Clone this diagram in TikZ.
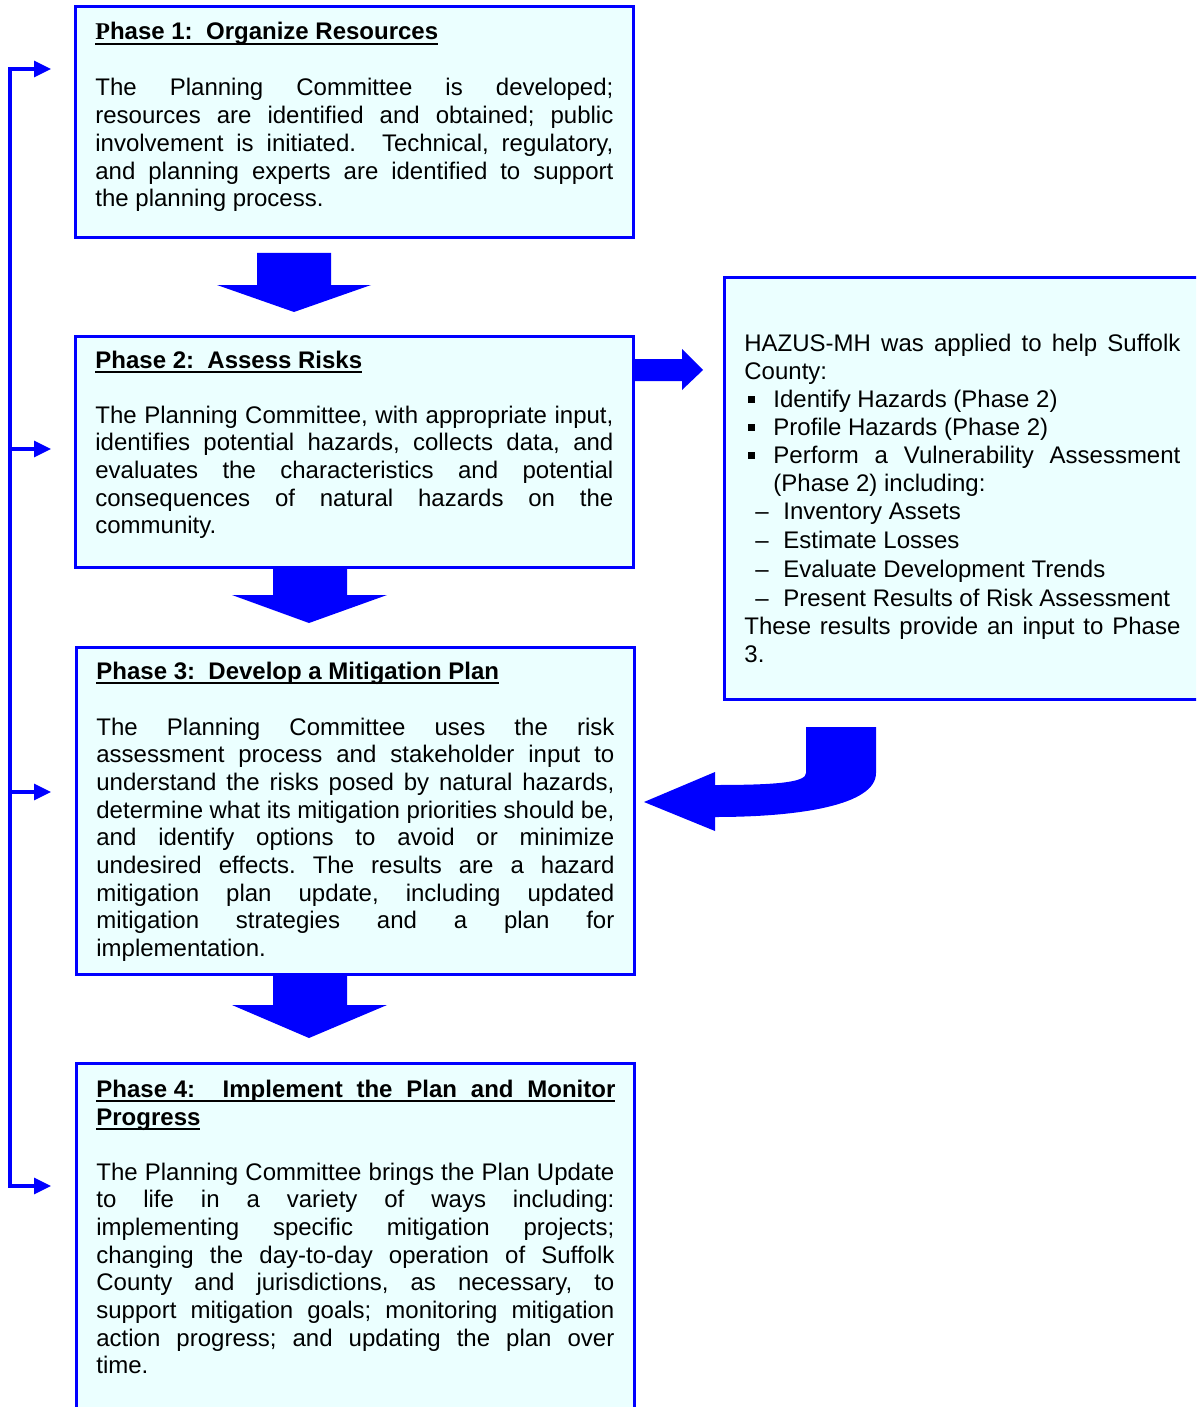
\documentclass[tikz,border=0pt]{standalone}
\usepackage{fontspec}
\setmainfont{Liberation Sans}
\newfontfamily\serifP{Liberation Serif}
\usetikzlibrary{arrows.meta}
\definecolor{boxfill}{HTML}{EBFFFF}
\definecolor{pblue}{HTML}{0000FF}
\newsavebox\ulbox
\newcommand\ulin[1]{\sbox\ulbox{#1}\rlap{\rule[-2.4pt]{\wd\ulbox}{1.1pt}}\usebox\ulbox}
\newcommand\bodyfont{\fontsize{12}{13.85}\selectfont\hyphenpenalty=10000 \exhyphenpenalty=10000 \tolerance=9000 \frenchspacing}
\newcommand\titlefont{\fontsize{12}{13.85}\selectfont\bfseries}
\newcommand\hzfont{\fontsize{12}{14}\selectfont\hyphenpenalty=10000 \exhyphenpenalty=10000 \tolerance=9000 \frenchspacing}
\newcommand\hzb{\par\leftskip=14.5pt\noindent\llap{\makebox[12.5pt][l]{\raisebox{2.2pt}{\rule{3.3pt}{3.3pt}}}}\ignorespaces}
\newcommand\hzd[1][0pt]{\par\vspace{#1}\leftskip=19.5pt\noindent\llap{\makebox[14pt][l]{–}}\ignorespaces}
\begin{document}
\begin{tikzpicture}[x=0.5pt,y=-0.5pt,
  >={Triangle[length=8.5pt,width=8pt]},
  box/.style={draw=pblue, line width=1.5pt, fill=boxfill, anchor=north west, inner sep=0pt, outer sep=0pt},
  body/.style={anchor=base west, inner sep=0pt, text width=259pt, align=justify, font=\bodyfont},
  ttl/.style={anchor=base west, inner sep=0pt, font=\titlefont},
  hz/.style={anchor=base west, inner sep=0pt, text width=218pt, align=justify, font=\hzfont},
  conn/.style={draw=pblue, line width=1.6pt, line join=miter},
  blockarrow/.style={fill=pblue, draw=none}]
\useasboundingbox (0,0) rectangle (1196,1407);
\clip (0,0) rectangle (1196,1407);

% boxes
\node[box, minimum width=279pt, minimum height=115.5pt] (b1) at (75,7) {};
\node[box, minimum width=279pt, minimum height=115.5pt] (b2) at (75,336) {};
\node[box, minimum width=279pt, minimum height=163.5pt] (b3) at (76,647) {};
\node[box, minimum width=279pt, minimum height=200pt] (b4) at (76,1063) {};
\node[box, minimum width=250pt, minimum height=211pt] (hzb) at (724,277) {};

% titles
\node[ttl] (t1h) at (95,40) {\ulin{{\serifP P}hase 1:\ \ Organize Resources}};
\node[ttl] (t2h) at (95,368) {\ulin{Phase 2:\ \ Assess Risks}};
\node[ttl] (t3h) at (96,679) {\ulin{Phase 3:\ \ Develop a Mitigation Plan}};
\node[ttl] (t4h) at (96,1097) {\ulin{\hbox to 259.5pt{Phase 4:\ \ \hfil\hfil Implement \hfil the \hfil Plan \hfil and \hfil Monitor}}};
\node[ttl] (t4h2) at (96,1125) {\ulin{Progress}};

% bodies
\node[body] (t1) at (95,96) {The Planning Committee is developed;\linebreak
resources are identified and obtained; public\linebreak
involvement is initiated.\ \ Technical, regulatory,\linebreak
and planning experts are identified to support\linebreak
the planning process.};

\node[body] (t2) at (95,423) {The Planning Committee, with appropriate input,\linebreak
identifies potential hazards, collects data, and\linebreak
evaluates the characteristics and potential\linebreak
consequences of natural hazards on the\linebreak
community.};

\node[body] (t3) at (96,735) {The Planning Committee uses the risk\linebreak
assessment process and stakeholder input to\linebreak
understand the risks posed by natural hazards,\linebreak
determine what its mitigation priorities should be,\linebreak
and identify options to avoid or minimize\linebreak
undesired effects. The results are a hazard\linebreak
mitigation plan update, including updated\linebreak
mitigation strategies and a plan for\linebreak
implementation.};

\node[body] (t4) at (96,1180) {The Planning Committee brings the Plan Update\linebreak
to life in a variety of ways including:\linebreak
implementing specific mitigation projects;\linebreak
changing the day-to-day operation of Suffolk\linebreak
County and jurisdictions, as necessary, to\linebreak
support mitigation goals; monitoring mitigation\linebreak
action progress; and updating the plan over\linebreak
time.};

\node[hz] (hzt) at (744,351) {HAZUS-MH was applied to help Suffolk\linebreak County:%
\hzb Identify Hazards (Phase 2)%
\hzb Profile Hazards (Phase 2)%
\hzb Perform a Vulnerability Assessment\linebreak (Phase 2) including:%
\hzd Inventory Assets%
\hzd[0.5pt]Estimate Losses%
\hzd[0.5pt]Evaluate Development Trends%
\hzd[0.5pt]Present Results of Risk Assessment%
\par\leftskip=5.5pt\noindent These results provide an input to Phase\linebreak 3.};

% block arrows
\path[blockarrow] (257,253) -- (331,253) -- (331,285) -- (371,285) -- (294,312) -- (217,285) -- (257,285) -- cycle;
\path[blockarrow] (273,567) -- (347,567) -- (347,595) -- (387,595) -- (309,623) -- (232,595) -- (273,595) -- cycle;
\path[blockarrow] (273,975) -- (347,975) -- (347,1005) -- (387,1005) -- (309,1038) -- (232,1005) -- (273,1005) -- cycle;
\path[blockarrow] (633,359) -- (682,359) -- (682,349) -- (703,370) -- (682,390) -- (682,381) -- (633,381) -- cycle;
\path[blockarrow] (806,727) -- (876,727) -- (876,773) .. controls (876,805) and (800,817) .. (715,817) -- (715,831) -- (644,802) -- (715,772) -- (715,785) .. controls (780,785) and (806,782) .. (806,773) -- cycle;

% feedback connector
\coordinate (j1) at (10,69);
\coordinate (j2) at (10,449);
\coordinate (j3) at (10,792);
\coordinate (j4) at (10,1186);
\coordinate (a1) at (51,69);
\coordinate (a2) at (51,449);
\coordinate (a3) at (51,792);
\coordinate (a4) at (51,1186);
\draw[conn, <->] (a1) -- (j1) -- (j4) -- (a4);
\draw[conn, ->] (j2) -- (a2);
\draw[conn, ->] (j3) -- (a3);
\end{tikzpicture}
\end{document}
